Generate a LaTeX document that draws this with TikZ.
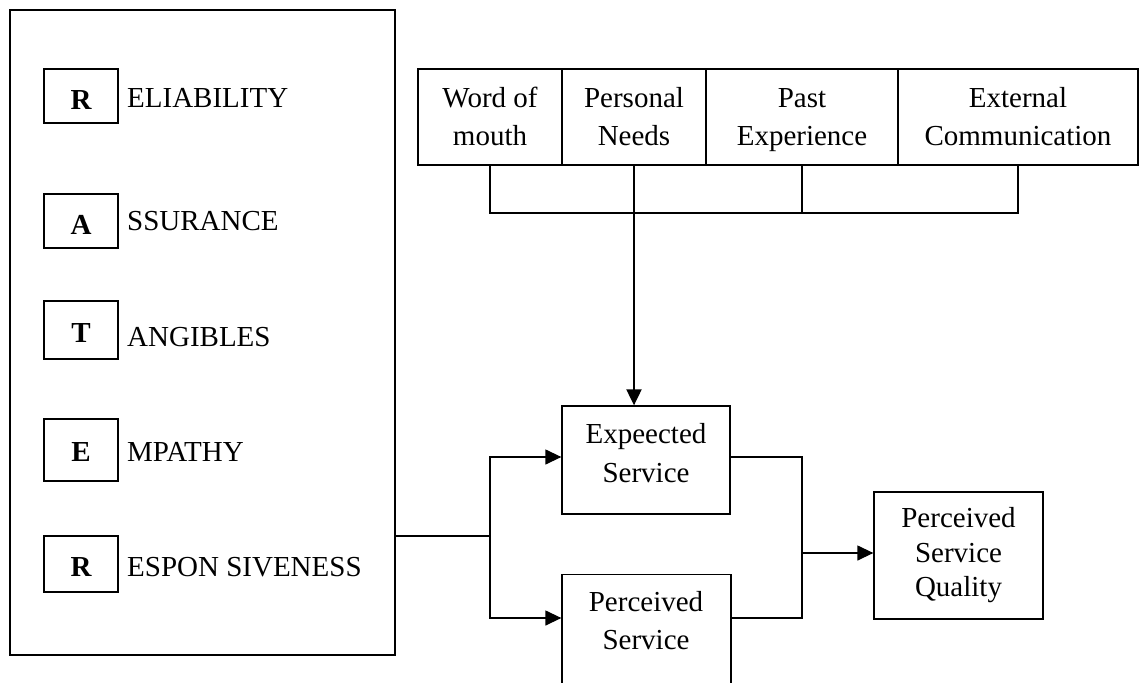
\documentclass[tikz,border=0pt]{standalone}
\usepackage{fontspec}
\setmainfont{Liberation Serif}
\usetikzlibrary{arrows.meta}
\newcommand\topstrut{\rule{0pt}{30pt}}
\newcommand\botstrut[1]{\rule[-#1]{0pt}{0pt}}
\tikzset{
  box/.style={draw, line width=1.3pt, rectangle, inner sep=0pt, align=center, font=\fontsize{29}{39}\selectfont},
  letterbox/.style={draw, line width=1.3pt, rectangle, minimum width=74pt, inner sep=0pt, text depth=0pt, font=\fontsize{29}{35}\selectfont\bfseries},
  lbl/.style={anchor=base west, inner sep=0pt, font=\fontsize{29}{35}\selectfont},
  txt/.style={inner sep=0pt, align=center, font=\fontsize{29}{38}\selectfont},
  conn/.style={line width=1.3pt},
  arr/.style={line width=1.3pt, -{Triangle[length=16pt,width=15pt]}},
}
\begin{document}
\begin{tikzpicture}[x=1pt,y=-1pt]
\useasboundingbox (0,0) rectangle (1142,682);
\clip (0,0) rectangle (1142,682);

% left SERVQUAL box
\node[box, minimum width=385pt, minimum height=645pt] (big) at (202.5,332.5) {};
\node[letterbox, minimum height=54pt, text height=28pt] (r1) at (81,96) {R};
\node[letterbox, minimum height=54pt, text height=26pt] (a) at (81,221) {A};
\node[letterbox, minimum height=58pt, text height=24pt] (t) at (81,330) {T};
\node[letterbox, minimum height=62pt, text height=22pt] (e) at (81,450) {E};
\node[letterbox, minimum height=56pt, text height=24pt] (r2) at (81,564) {R};
\node[lbl] (lr1) at (127,108) {ELIABILITY};
\node[lbl] (la) at (127,230) {SSURANCE};
\node[lbl] (lt) at (127,346) {ANGIBLES};
\node[lbl] (le) at (127,461) {MPATHY};
\node[lbl] (lr2) at (127,576) {ESPON SIVENESS};

% top row
\node[box, minimum width=144pt, minimum height=96pt] (wom) at (490,117) {\topstrut Word of\\mouth\botstrut{11pt}};
\node[box, minimum width=144pt, minimum height=96pt] (pn) at (634,117) {\topstrut Personal\\Needs\botstrut{11pt}};
\node[box, minimum width=192pt, minimum height=96pt] (pe) at (802,117) {\topstrut Past\\Experience\botstrut{11pt}};
\node[box, minimum width=240pt, minimum height=96pt] (ext) at (1018,117) {\topstrut External\\Communication\botstrut{11pt}};

% service boxes
\node[box, minimum width=168pt, minimum height=108pt] (exp) at (646,460) {Expeected\\Service\botstrut{15pt}};
\node[box, minimum width=169pt, minimum height=170pt, anchor=north] (per) at (646.5,574) {};
\node[txt] (pertext) at (646,621) {Perceived\\Service};
\node[box, minimum width=169pt, minimum height=127pt, font=\fontsize{29}{34.5}\selectfont] (psq) at (958.5,555.5) {Perceived\\Service\\Quality};

% connectors
\coordinate (bar) at (0,213);
\draw[conn] (wom.south) -- (wom.south |- bar) -- (ext.south |- bar) -- (ext.south);
\draw[conn] (pe.south) -- (pe.south |- bar);
\draw[arr, line width=2pt] (pn.south) -- (pn.south |- exp.north);

\coordinate (j1) at (490,536);
\draw[conn] (big.east |- j1) -- (j1);
\draw[arr] (j1) |- ([yshift=3pt]exp.west);
\draw[arr] (j1) |- ([yshift=-44pt]per.north west);

\coordinate (j2) at (802,553);
\draw[conn] ([yshift=3pt]exp.east) -| (j2);
\draw[conn] ([yshift=-44pt]per.north east) -| (j2);
\draw[arr] (j2) -- (j2 -| psq.west);
\end{tikzpicture}
\end{document}
